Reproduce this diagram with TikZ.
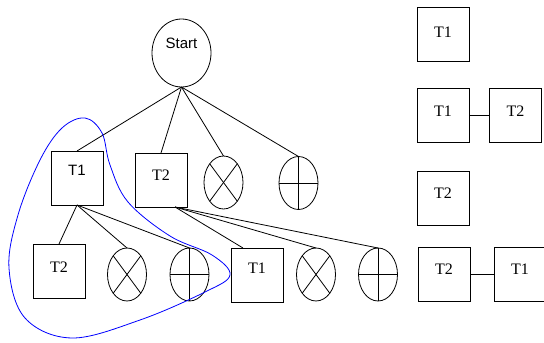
\documentclass[tikz,border=0pt]{standalone}
\usepackage{fontspec}
\setmainfont{Liberation Serif}
\setsansfont{Liberation Sans}
\usetikzlibrary{shapes.geometric}
\tikzset{
  x=1pt, y=-1pt,
  every node/.style={inner sep=0pt, outer sep=0pt},
  lbl/.style={text height=11pt, text depth=#1},
  task/.style={draw, line width=0.8pt, minimum width=52pt, minimum height=54pt,
               font=\fontsize{16}{16}\selectfont},
  stask/.style={task, font=\sffamily\fontsize{15}{15}\selectfont},
  gate/.style={draw, ellipse, line width=0.8pt, minimum width=39pt, minimum height=53pt},
  edge/.style={line width=0.8pt},
  hull/.style={blue, line width=0.8pt}
}
\newcommand{\xgate}[2]{%
  \node[gate] (#1) at (#2) {};
  \draw[edge] (#1.north west) -- (#1.south east);
  \draw[edge] (#1.north east) -- (#1.south west);}
\newcommand{\pgate}[2]{%
  \node[gate] (#1) at (#2) {};
  \draw[edge] (#1.north) -- (#1.south);
  \draw[edge] (#1.west) -- (#1.east);}
\begin{document}
\begin{tikzpicture}
\useasboundingbox (0,0) rectangle (544,343);

% root
\node[draw, ellipse, line width=0.8pt, minimum width=59pt, minimum height=68pt,
      font=\sffamily\fontsize{15}{15}\selectfont, lbl=20pt] (start) at (181.5,53) {Start};

% first level
\node[stask, lbl=16pt] (t1a) at (77,178) {T1};
\node[task, lbl=10pt] (t2a) at (161,180) {T2};
\xgate{xa}{223.5,182.5}
\pgate{pa}{298.5,183}

% second level under T1
\node[task, lbl=8pt] (t2b) at (59,271) {T2};
\xgate{xb}{127,274.5}
\pgate{pb}{189.5,274.5}

% second level under T2
\node[task, lbl=14pt] (t1b) at (257,275) {T1};
\xgate{xc}{316,274.5}
\pgate{pc}{378,274.5}

% connectors
\foreach \n in {t1a,t2a,xa,pa} \draw[edge] (start.south) -- (\n.north);
\foreach \n in {t2b,xb,pb} \draw[edge] (t1a.south) -- (\n.north);
\coordinate (t2out) at ([xshift=14pt]t2a.south);
\draw[edge] (t2out) -- ([xshift=-14pt]t1b.north);
\draw[edge] (t2out) -- (xc.north);
\draw[edge] (t2out) -- (pc.north);

% right column of sequences
\node[task, lbl=5pt] (r1) at (443,34.5) {T1};
\node[task, lbl=10pt] (r2a) at (443,115.5) {T1};
\node[task, lbl=10pt] (r2b) at (515.5,115.5) {T2};
\draw[edge] (r2a) -- (r2b);
\node[task, lbl=10pt] (r3) at (443,198) {T2};
\node[task, lbl=10pt] (r4a) at (444,274) {T2};
\node[task, lbl=10pt] (r4b) at (520,274) {T1};
\draw[edge] (r4a) -- (r4b);

% outline around the T1 subtree
\draw[hull] plot[smooth cycle, tension=0.6] coordinates {
  (85,118) (102,133) (110,165) (128,202) (170,236) (212,255) (230,275)
  (205,292) (140,320) (72,338) (25,318) (9,268) (18,215) (40,160) (62,128)};
\end{tikzpicture}
\end{document}
